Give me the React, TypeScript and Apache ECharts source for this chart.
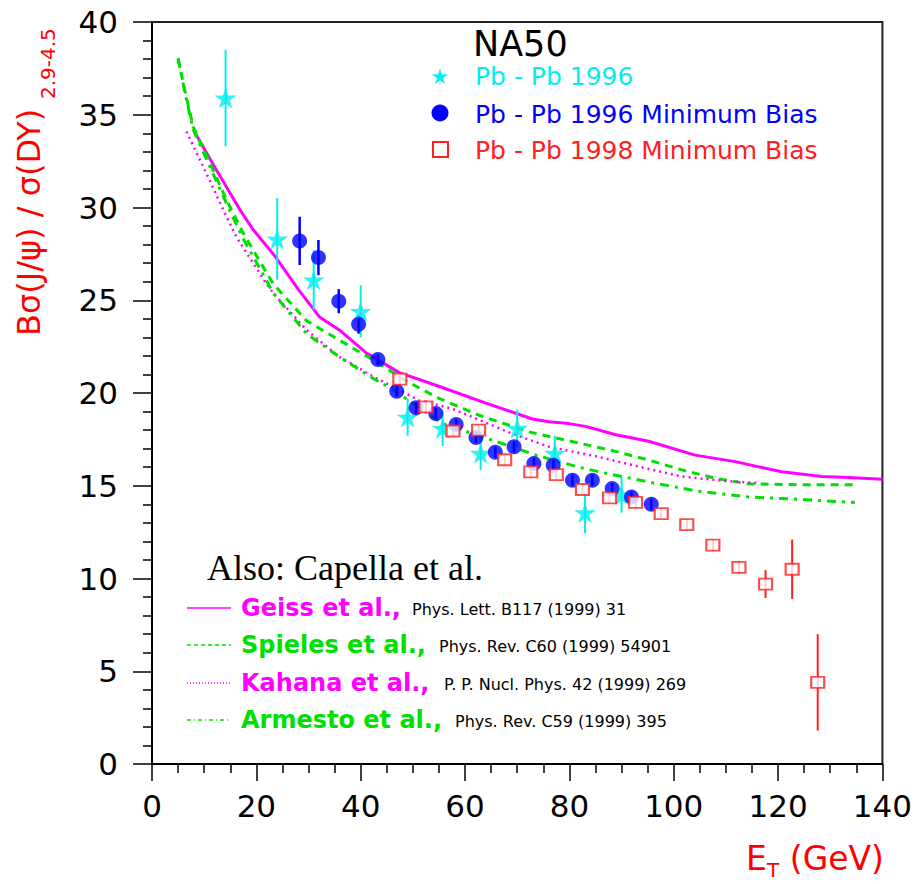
import React, { useEffect, useRef } from 'react';
import * as echarts from 'echarts';

// ---------- data ----------
const xTicks = [0, 20, 40, 60, 80, 100, 120, 140];
const yTicks = [0, 5, 10, 15, 20, 25, 30, 35, 40];

// Pb-Pb 1996 (cyan stars)
const starET = [14.1, 24.0, 31.0, 40.0, 49.0, 55.7, 63.0, 70.0, 77.2, 83.0, 90.0];
const starVal = [35.9, 28.3, 26.1, 24.4, 18.7, 18.1, 16.75, 18.1, 16.75, 13.55, 14.5];
const starErr = [2.6, 2.2, 1.6, 1.4, 1.0, 0.95, 0.9, 1.0, 0.95, 1.1, 0.95];

// Pb-Pb 1996 Minimum Bias (blue circles)
const mb96ET = [28.3, 31.9, 35.8, 39.6, 43.3, 46.9, 50.6, 54.4, 58.3, 62.1, 65.8, 69.4, 73.2, 76.9, 80.6, 84.4, 88.2, 91.9, 95.7];
const mb96Val = [28.2, 27.3, 24.95, 23.7, 21.8, 20.1, 19.2, 18.9, 18.3, 17.6, 16.8, 17.1, 16.2, 16.1, 15.3, 15.3, 14.85, 14.4, 14.0];
const mb96Err = [1.3, 0.95, 0.65, 0.5, 0.3, 0.3, 0.3, 0.3, 0.3, 0.3, 0.3, 0.3, 0.3, 0.3, 0.3, 0.3, 0.3, 0.3, 0.3];

// Pb-Pb 1998 Minimum Bias (red open squares)
const mb98ET = [47.5, 52.5, 57.7, 62.6, 67.6, 72.6, 77.5, 82.5, 87.7, 92.7, 97.6, 102.5, 107.5, 112.5, 117.6, 122.7, 127.6];
const mb98Val = [20.75, 19.25, 17.95, 18.0, 16.4, 15.75, 15.6, 14.8, 14.35, 14.1, 13.5, 12.9, 11.8, 10.6, 9.7, 10.5, 4.4];
const mb98Err = [0.35, 0.35, 0.3, 0.3, 0.3, 0.3, 0.3, 0.3, 0.3, 0.3, 0.3, 0.3, 0.3, 0.35, 0.75, 1.6, 2.6];

// Model curves
const geissET = [8.1, 12.4, 16.8, 19.4, 23.5, 28.0, 32.1, 35.9, 41.1, 47.4, 55.1, 64.0, 72.9, 76.1, 79.9, 83.1, 88.9, 95.2, 104.1, 111.8, 120.7, 128.4, 133.5, 140];
const geissVal = [34.1, 32.0, 29.9, 28.8, 27.4, 25.6, 24.1, 23.4, 22.15, 21.1, 20.35, 19.45, 18.6, 18.45, 18.35, 18.2, 17.75, 17.4, 16.65, 16.3, 15.75, 15.5, 15.45, 15.35];

const spielesET = [5.0, 6.3, 7.9, 11.1, 14.3, 17.5, 21.3, 23.2, 29.6, 35.9, 42.3, 48.7, 55.1, 62.7, 72.3, 81.8, 88.9, 95.0, 101.6, 108.0, 114.3, 125.0, 134.7];
const spielesVal = [38.05, 36.3, 34.35, 32.4, 30.4, 28.6, 26.8, 25.9, 23.9, 22.85, 21.8, 20.65, 19.7, 18.8, 17.9, 17.3, 16.85, 16.4, 15.85, 15.4, 15.1, 15.05, 15.05];

const kahanaET = [6.6, 9.8, 14.3, 16.2, 21.9, 23.2, 29.6, 35.9, 42.3, 46.1, 51.2, 57.6, 69.1, 76.1, 85.7, 95.2, 101.6, 110.0, 116.3];
const kahanaVal = [34.1, 32.2, 29.5, 28.4, 25.9, 25.4, 23.4, 21.95, 20.9, 20.35, 19.6, 19.15, 17.8, 17.1, 16.55, 15.9, 15.5, 15.25, 15.15];

const armestoET = [5.0, 6.3, 7.9, 11.1, 14.3, 17.5, 21.3, 23.2, 29.6, 35.9, 42.3, 46.1, 55.7, 65.3, 73.6, 81.8, 85.7, 95.2, 104.8, 114.3, 125.2, 134.7];
const armestoVal = [38.0, 36.2, 34.2, 32.2, 30.2, 28.3, 26.4, 25.4, 23.2, 21.95, 20.8, 20.2, 18.35, 17.45, 16.65, 16.0, 15.75, 15.2, 14.7, 14.4, 14.25, 14.1];

// ---------- styling ----------
const CYAN = '#00eeee';
const BLUE = '#0000ff';
const RED = '#ff2020';
const MAGENTA = '#ff00ff';
const GREEN = '#00e000';
const SANS = 'DejaVu Sans';

const STAR_PATH =
  'path://M0,-1L0.2234,-0.3074L0.951,-0.309L0.3614,0.1174L0.588,0.809L0,0.38L-0.588,0.809L-0.3614,0.1174L-0.951,-0.309L-0.2234,-0.3074Z';

const pairs = (xs: number[], ys: number[]) => xs.map((x, i) => [x, ys[i]]);
const errData = (xs: number[], ys: number[], es: number[]) =>
  xs.map((x, i) => [x, ys[i] - es[i], ys[i] + es[i]]);

function starPoints(cx: number, cy: number, r: number) {
  const pts: number[][] = [];
  for (let k = 0; k < 10; k++) {
    const ang = -Math.PI / 2 + (k * Math.PI) / 5;
    const rr = k % 2 === 0 ? r : r * 0.38;
    pts.push([cx + rr * Math.cos(ang), cy + rr * Math.sin(ang)]);
  }
  return pts;
}

function errSeries(name: string, data: number[][], color: string, width: number) {
  return {
    type: 'custom',
    name,
    data,
    z: 3,
    silent: true,
    encode: { x: 0, y: [1, 2] },
    renderItem: (_p: any, api: any) => {
      const x = api.value(0);
      const lo = api.coord([x, api.value(1)]);
      const hi = api.coord([x, api.value(2)]);
      return {
        type: 'line',
        shape: { x1: lo[0], y1: lo[1], x2: hi[0], y2: hi[1] },
        style: { stroke: color, lineWidth: width },
      };
    },
  };
}

function curve(name: string, xs: number[], ys: number[], color: string, width: number, type: any) {
  return {
    type: 'line',
    name,
    data: pairs(xs, ys),
    showSymbol: false,
    symbol: 'none',
    silent: true,
    z: 2,
    lineStyle: { color, width, type },
  };
}

export default function App() {
  const ref = useRef<HTMLDivElement>(null);

  useEffect(() => {
    if (!ref.current) return;
    const chart = echarts.init(ref.current, undefined, { renderer: 'svg' });

    const legendRows = [
      { name: 'Geiss et al.,', ref: 'Phys. Lett. B117 (1999) 31', color: MAGENTA, dash: null as any, refX: 412, y: 608 },
      { name: 'Spieles et al.,', ref: 'Phys. Rev. C60 (1999) 54901', color: GREEN, dash: [4, 3], refX: 439, y: 645 },
      { name: 'Kahana et al.,', ref: 'P. P. Nucl. Phys. 42 (1999) 269', color: MAGENTA, dash: [1, 2], refX: 444, y: 683 },
      { name: 'Armesto et al.,', ref: 'Phys. Rev. C59 (1999) 395', color: GREEN, dash: [4, 3, 1, 3], refX: 455, y: 720 },
    ];

    const graphic: any[] = [];
    // y-axis title
    graphic.push({
      type: 'text', x: 29, y: 336, rotation: Math.PI / 2,
      style: { text: 'Bσ(J/ψ) / σ(DY)', fill: '#ff0000', font: `32px "${SANS}"`, textAlign: 'left', textVerticalAlign: 'middle' },
    });
    graphic.push({
      type: 'text', x: 48, y: 99, rotation: Math.PI / 2,
      style: { text: '2.9-4.5', fill: '#ff0000', font: `20px "${SANS}"`, textAlign: 'left', textVerticalAlign: 'middle' },
    });
    // x-axis title
    graphic.push({
      type: 'text', x: 884, y: 858,
      style: { text: '(GeV)', fill: '#ff0000', font: `33px "${SANS}"`, textAlign: 'right', textVerticalAlign: 'middle' },
    });
    graphic.push({
      type: 'text', x: 746, y: 858,
      style: { text: 'E', fill: '#ff0000', font: `33px "${SANS}"`, textAlign: 'left', textVerticalAlign: 'middle' },
    });
    graphic.push({
      type: 'text', x: 767, y: 870,
      style: { text: 'T', fill: '#ff0000', font: `20px "${SANS}"`, textAlign: 'left', textVerticalAlign: 'middle' },
    });
    // top-right legend
    graphic.push({
      type: 'text', x: 473, y: 44,
      style: { text: 'NA50', fill: '#000', font: `35px "${SANS}"`, textAlign: 'left', textVerticalAlign: 'middle' },
    });
    graphic.push({ type: 'polygon', shape: { points: starPoints(440, 77, 8.5) }, style: { fill: CYAN } });
    graphic.push({ type: 'circle', shape: { cx: 440, cy: 113, r: 8.5 }, style: { fill: BLUE } });
    graphic.push({ type: 'rect', shape: { x: 433, y: 142, width: 15, height: 15 }, style: { fill: '#fff', stroke: RED, lineWidth: 2 } });
    const topLeg = [
      { t: 'Pb - Pb 1996', c: CYAN, y: 76 },
      { t: 'Pb - Pb 1996 Minimum Bias', c: BLUE, y: 114 },
      { t: 'Pb - Pb 1998 Minimum Bias', c: RED, y: 150 },
    ];
    topLeg.forEach((r) =>
      graphic.push({
        type: 'text', x: 475, y: r.y,
        style: { text: r.t, fill: r.c, font: `25px "${SANS}"`, textAlign: 'left', textVerticalAlign: 'middle' },
      })
    );
    // bottom-left legend
    graphic.push({
      type: 'text', x: 207, y: 568,
      style: { text: 'Also: Capella et al.', fill: '#000', font: '36px "Liberation Serif"', textAlign: 'left', textVerticalAlign: 'middle' },
    });
    legendRows.forEach((r) => {
      graphic.push({
        type: 'line', shape: { x1: 187, y1: r.y, x2: 231, y2: r.y },
        style: { stroke: r.color, lineWidth: 1.5, lineDash: r.dash || undefined },
      });
      graphic.push({
        type: 'text', x: 241, y: r.y,
        style: { text: r.name, fill: r.color, font: `bold 24px "${SANS}"`, textAlign: 'left', textVerticalAlign: 'middle' },
      });
      graphic.push({
        type: 'text', x: r.refX, y: r.y + 1,
        style: { text: r.ref, fill: '#000', font: `16px "${SANS}"`, textAlign: 'left', textVerticalAlign: 'middle' },
      });
    });

    const option: any = {
      animation: false,
      backgroundColor: '#fff',
      grid: { left: 152, right: 31, top: 22, bottom: 120, show: true, borderColor: '#222', borderWidth: 2, backgroundColor: 'transparent' },
      xAxis: {
        type: 'value', min: xTicks[0], max: xTicks[xTicks.length - 1], interval: 20,
        axisLine: { show: true, onZero: false, lineStyle: { color: '#000', width: 2 } },
        axisTick: { show: true, length: 17, lineStyle: { color: '#000', width: 1.5 } },
        minorTick: { show: true, splitNumber: 4, length: 9, lineStyle: { color: '#000', width: 1.5 } },
        splitLine: { show: false },
        axisLabel: { color: '#000', fontSize: 31, fontFamily: SANS, margin: 26 },
      },
      yAxis: {
        type: 'value', min: yTicks[0], max: yTicks[yTicks.length - 1], interval: 5,
        axisLine: { show: true, onZero: false, lineStyle: { color: '#000', width: 2 } },
        axisTick: { show: true, length: 19, lineStyle: { color: '#000', width: 1.5 } },
        minorTick: { show: true, splitNumber: 5, length: 9, lineStyle: { color: '#000', width: 1.5 } },
        splitLine: { show: false },
        axisLabel: { color: '#000', fontSize: 31, fontFamily: SANS, margin: 34 },
      },
      series: [
        curve('Geiss et al.', geissET, geissVal, MAGENTA, 3, 'solid'),
        curve('Spieles et al.', spielesET, spielesVal, GREEN, 3, [8, 6]),
        curve('Kahana et al.', kahanaET, kahanaVal, MAGENTA, 2.5, [2, 4]),
        curve('Armesto et al.', armestoET, armestoVal, GREEN, 3, [9, 6, 3, 6]),
        errSeries('err96', errData(starET, starVal, starErr), CYAN, 2),
        errSeries('errMB96', errData(mb96ET, mb96Val, mb96Err), BLUE, 2.5),
        errSeries('errMB98', errData(mb98ET, mb98Val, mb98Err), RED, 2),
        {
          type: 'scatter', name: 'Pb - Pb 1996', data: pairs(starET, starVal), z: 5, silent: true,
          symbol: STAR_PATH, symbolSize: 22, symbolKeepAspect: true, itemStyle: { color: CYAN },
        },
        {
          type: 'scatter', name: 'Pb - Pb 1996 Minimum Bias', data: pairs(mb96ET, mb96Val), z: 5, silent: true,
          symbol: 'circle', symbolSize: 15, itemStyle: { color: BLUE },
        },
        {
          type: 'scatter', name: 'Pb - Pb 1998 Minimum Bias', data: pairs(mb98ET, mb98Val), z: 5, silent: true,
          symbol: 'rect', symbolSize: [13, 11], itemStyle: { color: '#fff', borderColor: RED, borderWidth: 2 },
        },
      ],
      graphic,
    };
    chart.setOption(option);
    return () => chart.dispose();
  }, []);

  return (
    <div
      ref={ref}
      style={{ position: 'fixed', left: 0, top: 0, width: 915, height: 884, background: '#fff' }}
    />
  );
}
